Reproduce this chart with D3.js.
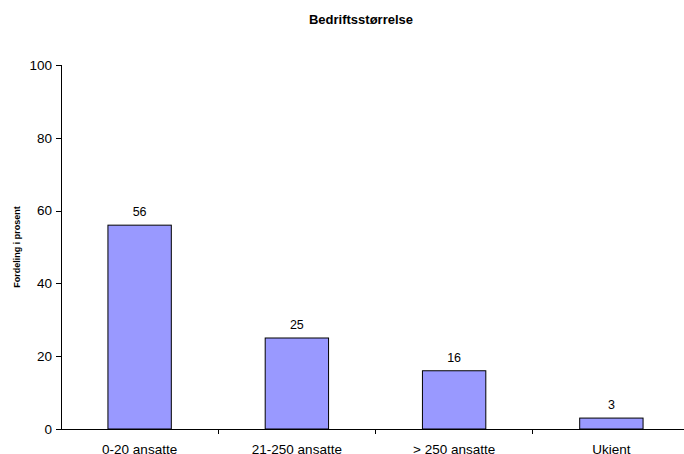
<!DOCTYPE html>
<html>
<head>
  <script src="https://d3js.org/d3.v7.min.js"></script>
  <style>
    body { margin: 0; background: #fff; }
    svg { font-family: "Liberation Sans", Arial, sans-serif; }
    .axis path, .axis line { stroke: #000; fill: none; shape-rendering: crispEdges; }
    .axis text { font-size: 13.5px; fill: #000; }
    .xaxis text { font-size: 13.5px; }
    .title { font-size: 13px; font-weight: bold; }
    .axis-label { font-size: 9px; font-weight: bold; }
    .value { font-size: 12.5px; }
  </style>
</head>
<body>
  <div id="chart"></div>
  <script>
    const categories = ["0-20 ansatte", "21-250 ansatte", "> 250 ansatte", "Ukient"];
    const values = [56, 25, 16, 3];
    const yTicks = [0, 20, 40, 60, 80, 100];

    const W = 684, H = 454;
    const margin = { top: 65, left: 61 },
          plotH = 364,
          plotW = 629;

    const svg = d3.select("#chart").append("svg")
      .attr("width", W).attr("height", H);

    const g = svg.append("g")
      .attr("transform", `translate(${margin.left},${margin.top})`);

    const x = d3.scaleBand()
      .domain(categories)
      .range([0, plotW])
      .paddingInner(0.597)
      .paddingOuter(0.2985);

    const y = d3.scaleLinear()
      .domain([0, 100])
      .range([plotH, 0]);

    // bars
    g.selectAll("rect.bar")
      .data(values)
      .enter().append("rect")
        .attr("class", "bar")
        .attr("x", (d, i) => x(categories[i]))
        .attr("y", d => y(d))
        .attr("width", x.bandwidth())
        .attr("height", d => y(0) - y(d))
        .attr("fill", "#9999FF")
        .attr("stroke", "#000")
        .attr("stroke-width", 1);

    // value labels
    g.selectAll("text.value")
      .data(values)
      .enter().append("text")
        .attr("class", "value")
        .attr("text-anchor", "middle")
        .attr("x", (d, i) => x(categories[i]) + x.bandwidth() / 2)
        .attr("y", d => y(d) - 9)
        .text(d => d);

    // y axis
    g.append("g")
      .attr("class", "axis")
      .call(d3.axisLeft(y).tickValues(yTicks).tickSizeOuter(0).tickSize(5).tickPadding(4));

    // x axis with ticks between categories
    const step = plotW / categories.length;
    const xa = g.append("g")
      .attr("class", "axis xaxis")
      .attr("transform", `translate(0,${plotH})`);
    xa.append("line")
      .attr("x1", 0).attr("x2", plotW)
      .attr("y1", 0).attr("y2", 0);
    xa.selectAll("line.sep")
      .data(d3.range(1, categories.length))
      .enter().append("line")
        .attr("class", "sep")
        .attr("x1", d => d * step).attr("x2", d => d * step)
        .attr("y1", 0).attr("y2", 5);
    xa.selectAll("text")
      .data(categories)
      .enter().append("text")
        .attr("text-anchor", "middle")
        .attr("x", d => x(d) + x.bandwidth() / 2)
        .attr("y", 25)
        .text(d => d);

    // title
    svg.append("text")
      .attr("class", "title")
      .attr("text-anchor", "middle")
      .attr("x", 361)
      .attr("y", 24)
      .text("Bedriftsstørrelse");

    // y label
    svg.append("text")
      .attr("class", "axis-label")
      .attr("text-anchor", "middle")
      .attr("transform", `translate(20,${margin.top + plotH / 2}) rotate(-90)`)
      .text("Fordeling i prosent");
  </script>
</body>
</html>
